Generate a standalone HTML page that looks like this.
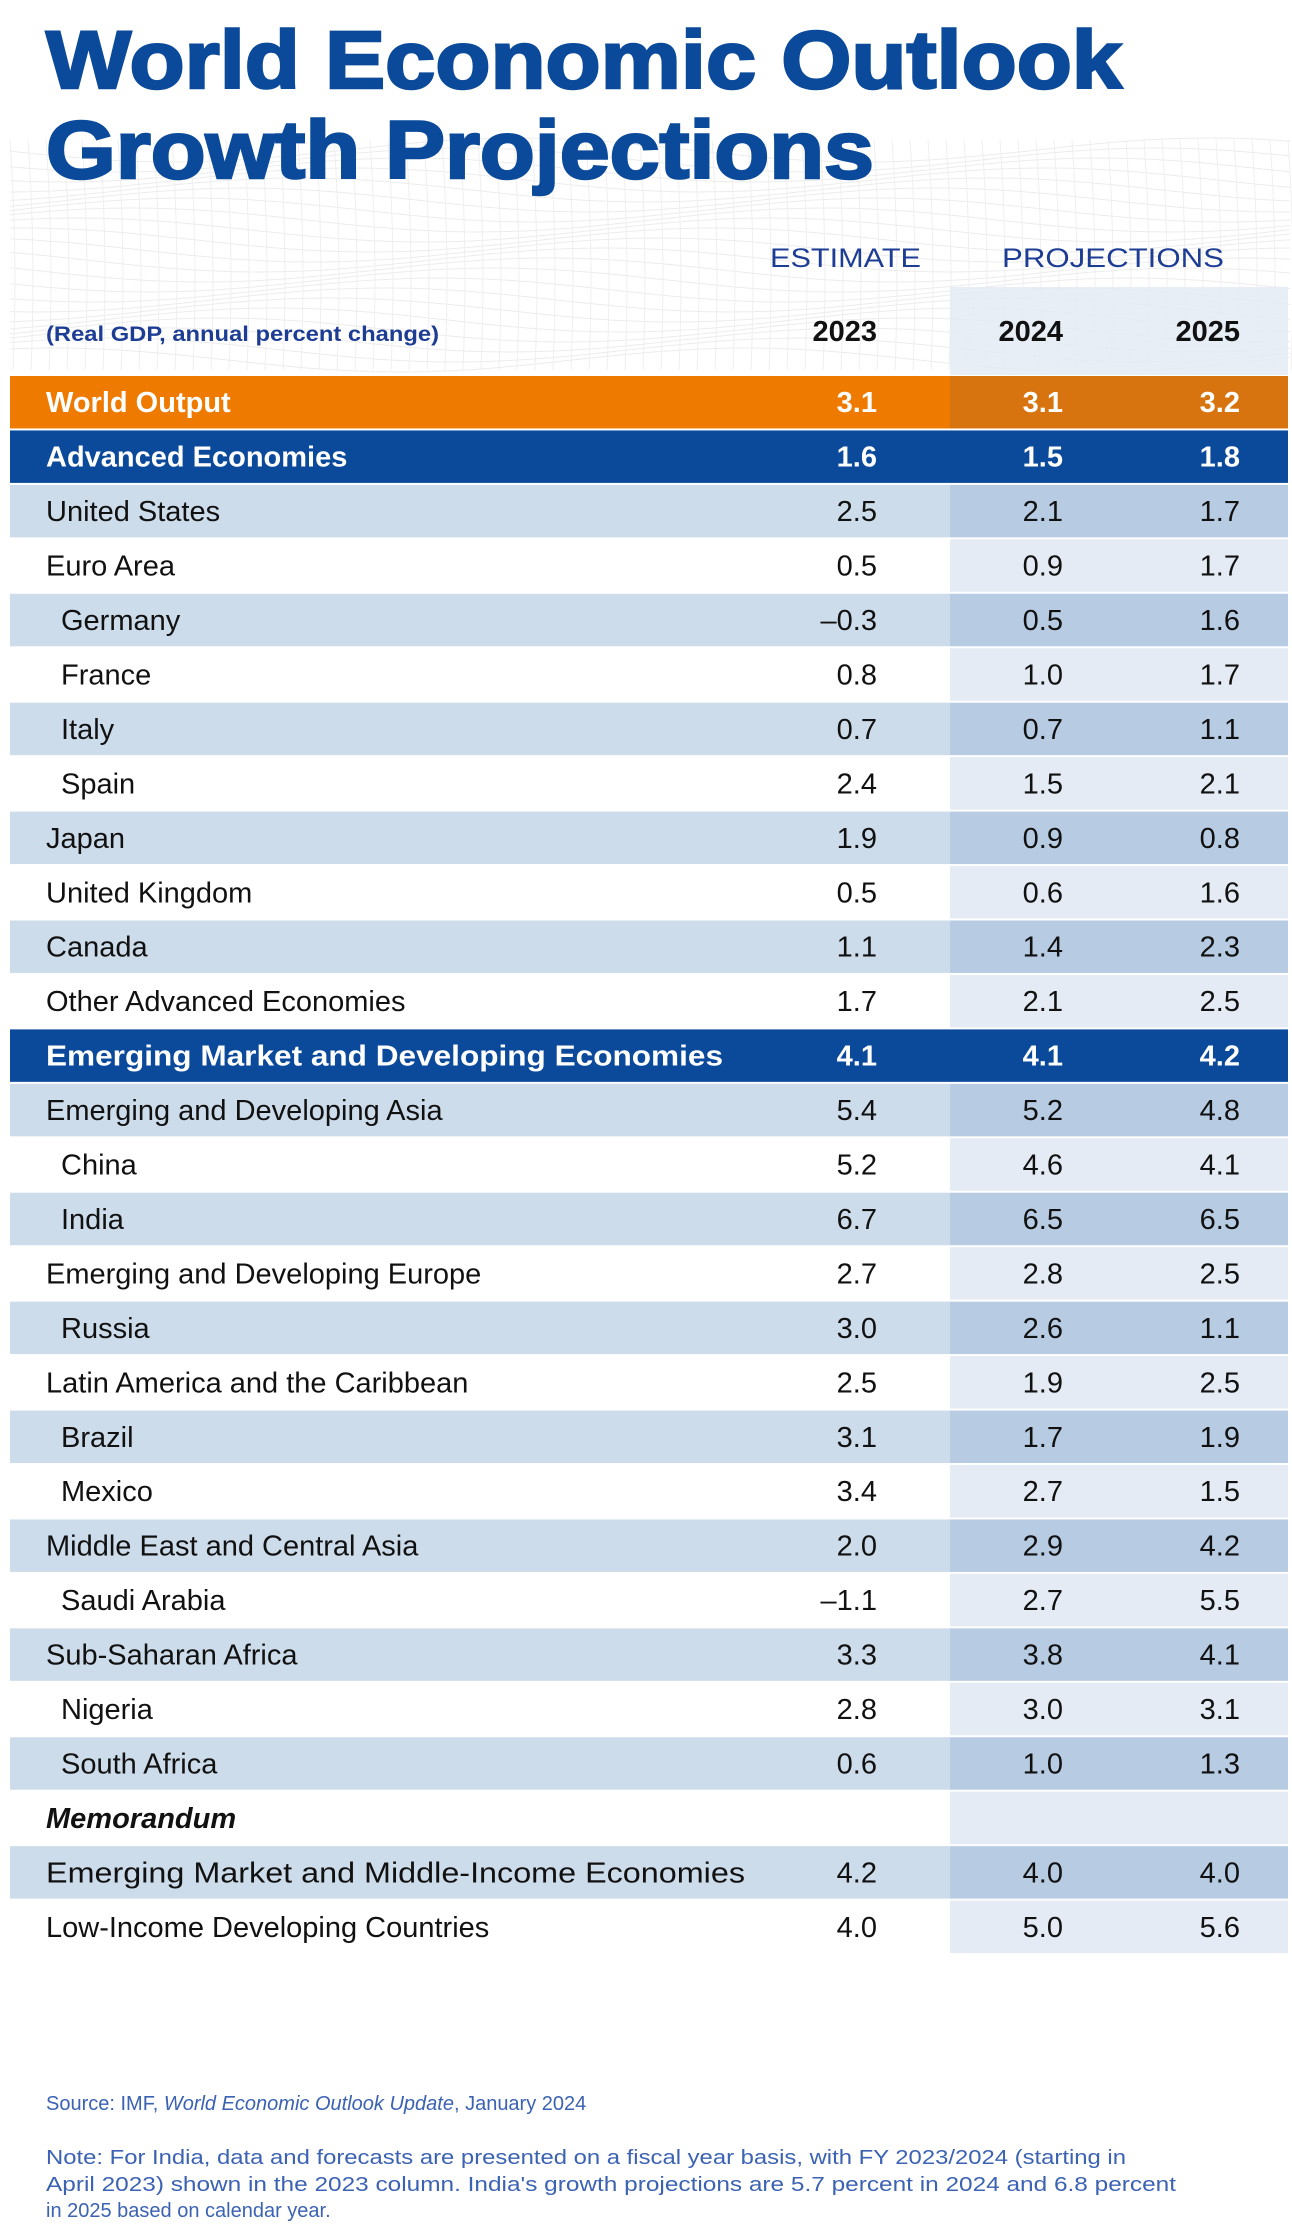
<!DOCTYPE html>
<html><head><meta charset="utf-8"><style>
html,body{margin:0;padding:0;background:#fff;}
svg{display:block;font-family:"Liberation Sans",sans-serif;}
</style></head><body>
<svg id="chart" width="1292" height="2232" viewBox="0 0 1292 2232" xmlns="http://www.w3.org/2000/svg">
<g id="bg"></g>
<text x="46" y="88" font-size="82" font-weight="bold" fill="#0b4a9b" stroke="#0b4a9b" stroke-width="2.5" textLength="1076" lengthAdjust="spacingAndGlyphs">World Economic Outlook</text>
<text x="46" y="178" font-size="82" font-weight="bold" fill="#0b4a9b" stroke="#0b4a9b" stroke-width="2.5" textLength="828" lengthAdjust="spacingAndGlyphs">Growth Projections</text>
<rect x="950" y="287" width="338" height="88" fill="#e4ebf4" opacity="0.85"/>
<text x="770" y="267" font-size="27" fill="#1d3d94" textLength="151" lengthAdjust="spacingAndGlyphs">ESTIMATE</text>
<text x="1002" y="267" font-size="27" fill="#1d3d94" textLength="222" lengthAdjust="spacingAndGlyphs">PROJECTIONS</text>
<text x="46" y="341" font-size="21" font-weight="bold" fill="#1d3d94" textLength="393" lengthAdjust="spacingAndGlyphs">(Real GDP, annual percent change)</text>
<text x="877" y="341" font-size="29" font-weight="bold" fill="#111" text-anchor="end">2023</text>
<text x="1063" y="341" font-size="29" font-weight="bold" fill="#111" text-anchor="end">2024</text>
<text x="1240" y="341" font-size="29" font-weight="bold" fill="#111" text-anchor="end">2025</text>
<g id="rows"></g>
<text x="46" y="2110" font-size="20" fill="#3b62b3">Source: IMF, <tspan font-style="italic">World Economic Outlook Update</tspan>, January 2024</text>
<text x="46" y="2164" font-size="20" fill="#3b62b3" textLength="1080" lengthAdjust="spacingAndGlyphs">Note: For India, data and forecasts are presented on a fiscal year basis, with FY 2023/2024 (starting in</text>
<text x="46" y="2191" font-size="20" fill="#3b62b3" textLength="1130" lengthAdjust="spacingAndGlyphs">April 2023) shown in the 2023 column. India's growth projections are 5.7 percent in 2024 and 6.8 percent</text>
<text x="46" y="2217" font-size="20" fill="#3b62b3">in 2025 based on calendar year.</text>
</svg>
<script>
const categories = ["World Output","Advanced Economies","United States","Euro Area","Germany","France","Italy","Spain","Japan","United Kingdom","Canada","Other Advanced Economies","Emerging Market and Developing Economies","Emerging and Developing Asia","China","India","Emerging and Developing Europe","Russia","Latin America and the Caribbean","Brazil","Mexico","Middle East and Central Asia","Saudi Arabia","Sub-Saharan Africa","Nigeria","South Africa","Memorandum","Emerging Market and Middle-Income Economies","Low-Income Developing Countries"];
const values2023 = ["3.1","1.6","2.5","0.5","\u20130.3","0.8","0.7","2.4","1.9","0.5","1.1","1.7","4.1","5.4","5.2","6.7","2.7","3.0","2.5","3.1","3.4","2.0","\u20131.1","3.3","2.8","0.6","","4.2","4.0"];
const values2024 = ["3.1","1.5","2.1","0.9","0.5","1.0","0.7","1.5","0.9","0.6","1.4","2.1","4.1","5.2","4.6","6.5","2.8","2.6","1.9","1.7","2.7","2.9","2.7","3.8","3.0","1.0","","4.0","5.0"];
const values2025 = ["3.2","1.8","1.7","1.7","1.6","1.7","1.1","2.1","0.8","1.6","2.3","2.5","4.2","4.8","4.1","6.5","2.5","1.1","2.5","1.9","1.5","4.2","5.5","4.1","3.1","1.3","","4.0","5.6"];
const rowTypes = ["world","group","main","main","sub","sub","sub","sub","main","main","main","main","group","main","sub","sub","main","sub","main","sub","sub","main","sub","main","sub","sub","memo","main","main"];

const NS="http://www.w3.org/2000/svg";
function mk(tag, attrs, parent){const e=document.createElementNS(NS,tag);for(const k in attrs)e.setAttribute(k,attrs[k]);parent.appendChild(e);return e;}

// decorative mesh (faint)
const bg=document.getElementById('bg');
for(let i=0;i<22;i++){
  let d="";
  for(let x=10;x<=1290;x+=20){
    const y=150+i*10+Math.sin(x/110+i*0.5)*12;
    d+=(x===10?"M":"L")+x+","+y.toFixed(1);
  }
  const p=mk('path',{d:d,fill:"none",stroke:"#ececec","stroke-width":"1"},bg);
  
  
}
for(let x=10;x<=1290;x+=18){
  const p=mk('path',{d:`M${x},140 Q${x+8},250 ${x+3},370`,fill:"none",stroke:"#efefef","stroke-width":"1"},bg);
  
  
}

const top0=375, rowH=54.45, left=10, right=1288, projX=950;
const colRight=[877,1063,1240];
function rowY(i){return top0+i*rowH;}
const rows=document.getElementById('rows');
categories.forEach((name,i)=>{
  const y=rowY(i), t=rowTypes[i];
  const g=mk('g',{},rows);
  
  
  let c1,c2,tc="#111",fw="normal",fs="normal";
  if(t==="world"){c1="#ee7a00";c2="#d8740f";tc="#fff";fw="bold";}
  else if(t==="group"){c1="#0b4a9b";c2="#0b4a9b";tc="#fff";fw="bold";}
  else {
    const light=(i-2)%2===0 && i<12 || (i>12 && (i-13)%2===0);
    if(light){c1="#cddcea";c2="#b7cbe3";} else {c1="#ffffff";c2="#e4ebf4";}
    if(t==="memo"){fw="bold";fs="italic";}
  }
  const r1=mk('rect',{x:left,y:y+1,width:projX-left,height:rowH-2,fill:c1},g);
  
  
  const r2=mk('rect',{x:projX,y:y+1,width:right-projX,height:rowH-2,fill:c2},g);
  
  
  const lx=(t==="sub")?61:46;
  const base=y+rowH/2+10;
  const lab=mk('text',{x:lx,y:base,"font-size":29,"font-weight":fw,"font-style":fs,fill:tc},g);
  lab.textContent=name;
  if(name==="Emerging Market and Developing Economies"){lab.setAttribute('textLength','677');lab.setAttribute('lengthAdjust','spacingAndGlyphs');}
  if(name==="Emerging Market and Middle-Income Economies"){lab.setAttribute('textLength','699');lab.setAttribute('lengthAdjust','spacingAndGlyphs');}
  
  
  [values2023,values2024,values2025].forEach((arr,k)=>{
    if(!arr[i])return;
    const v=mk('text',{x:colRight[k],y:base,"font-size":29,"font-weight":(t==="world"||t==="group")?"bold":"normal",fill:tc,"text-anchor":"end"},g);
    v.textContent=arr[i];
    
    
  });
});
</script>
</body></html>
